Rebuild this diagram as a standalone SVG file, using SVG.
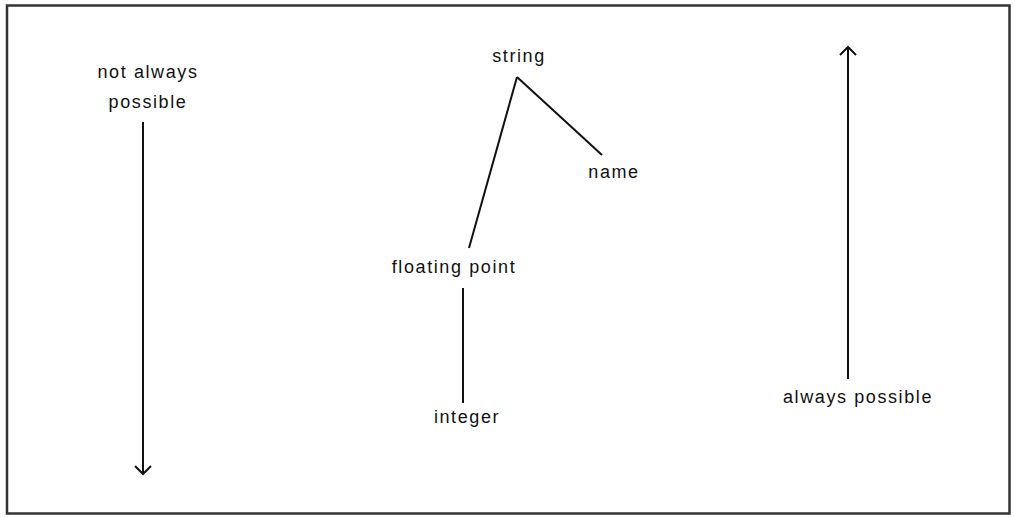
<svg xmlns="http://www.w3.org/2000/svg" width="1015" height="518" viewBox="0 0 1015 518">
  <style>
    .lbl { font-family: "Liberation Sans", Arial, sans-serif; font-size: 18px; letter-spacing: 1.6px; fill: #111; text-anchor: middle; }
    .edge { stroke: #111; stroke-width: 2; fill: none; }
  </style>
  <defs>
    <marker id="head" viewBox="0 0 20 20" refX="10" refY="10" markerWidth="20" markerHeight="20" markerUnits="userSpaceOnUse" orient="auto">
      <path d="M2,2 L10,10 L2,18" fill="none" stroke="#111" stroke-width="2"/>
    </marker>
  </defs>
  <rect x="0" y="0" width="1015" height="518" fill="#fff"/>
  <rect x="7" y="5.5" width="1002.5" height="508" fill="none" stroke="#333" stroke-width="2.5"/>

  <g id="connectors">
    <line class="edge" x1="517" y1="77" x2="469" y2="248"/>
    <line class="edge" x1="517" y1="77" x2="602" y2="155"/>
    <line class="edge" x1="463" y1="288" x2="463" y2="403"/>
    <line class="edge" x1="143" y1="122" x2="143" y2="474" marker-end="url(#head)"/>
    <line class="edge" x1="848" y1="379" x2="848" y2="47" marker-end="url(#head)"/>
  </g>

  <g id="not-always-possible">
    <text class="lbl" x="148" y="78">not always</text>
    <text class="lbl" x="148" y="108">possible</text>
  </g>
  <g id="always-possible">
    <text class="lbl" x="858" y="403">always possible</text>
  </g>
  <g id="string">
    <text class="lbl" x="519" y="62">string</text>
  </g>
  <g id="name">
    <text class="lbl" x="614" y="178">name</text>
  </g>
  <g id="floating-point">
    <text class="lbl" x="454" y="273">floating point</text>
  </g>
  <g id="integer">
    <text class="lbl" x="467" y="423">integer</text>
  </g>
</svg>
